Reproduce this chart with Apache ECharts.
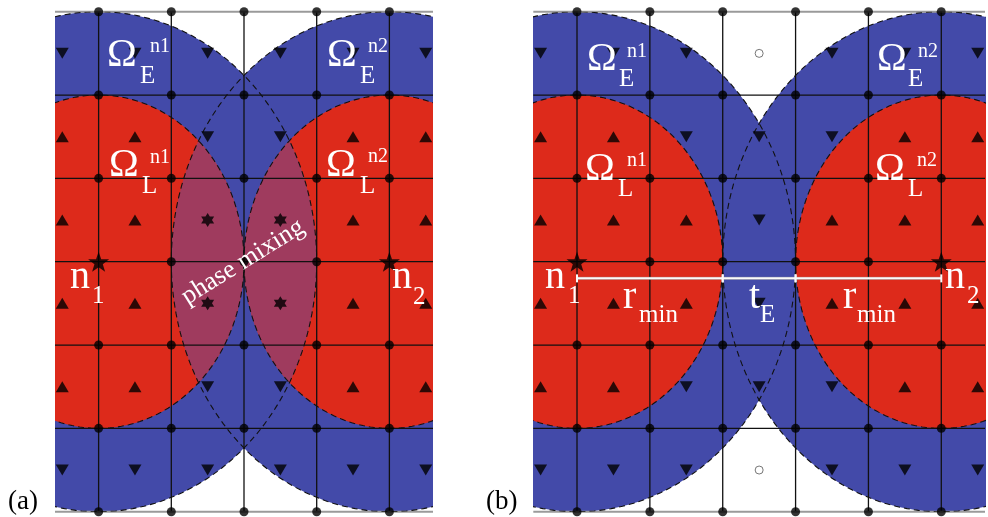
<!DOCTYPE html>
<html><head><meta charset="utf-8">
<script src="https://cdn.jsdelivr.net/npm/echarts@6/dist/echarts.min.js"></script>
<style>html,body{margin:0;padding:0;background:#fff}#c{width:988px;height:517px}</style>
</head><body><div id="c"></div>
<script>
// ---------------- data (grid cell units) ----------------
const gridColsA = [0, 1, 2, 3, 4];
const gridColsB = [0, 1, 2, 3, 4, 5];
const gridRows = [0, 1, 2, 3, 4, 5, 6];
const cellColsA = [-0.5, 0.5, 1.5, 2.5, 3.5, 4.5];
const cellColsB = [-0.5, 0.5, 1.5, 2.5, 3.5, 4.5, 5.5];
const cellRows = [0.5, 1.5, 2.5, 3.5, 4.5, 5.5];
const nodesA = [[0, 3], [4, 3]];   // n1, n2 in panel (a)
const nodesB = [[0, 3], [5, 3]];   // n1, n2 in panel (b)
const rMin = 2;                    // radius of liquid domain
const tE = 1;                      // thickness of extension domain
const xRangeA = [-0.6, 4.6];
const xRangeB = [-0.6, 5.6];
const yRange = [0, 6];
const dimLineY = 3.2;

// ---------------- styles ----------------
const BLUE = '#434aa9', RED = '#dd2a1b', PURPLE = '#9f3b5e';
const FONT = '"Liberation Serif", "Times New Roman", serif';

function d2(p, c) { return (p[0]-c[0])**2 + (p[1]-c[1])**2; }
function classify(p, nodes) {
  const rE = rMin + tE;
  const L = nodes.map(c => d2(p, c) < rMin*rMin);
  const E = nodes.map(c => d2(p, c) < rE*rE);
  for (let i = 0; i < nodes.length; i++) for (let j = 0; j < nodes.length; j++)
    if (i !== j && L[i] && E[j] && !L[j]) return 'mix';
  if (L.some(v => v)) return 'liq';
  if (E.some(v => v)) return 'ext';
  return 'empty';
}
function circlePts(api, cx, cy, r) {
  const pts = [];
  for (let k = 0; k <= 240; k++) {
    const t = k / 240 * 2 * Math.PI;
    pts.push(api.coord([cx + r*Math.cos(t), cy + r*Math.sin(t)]));
  }
  return pts;
}
function lensPts(api, c1, r1, c2, r2) {
  const pts = [];
  const N = 720;
  [[c1, r1, c2, r2], [c2, r2, c1, r1]].forEach(([a, ra, b, rb]) => {
    for (let k = 0; k < N; k++) {
      const t = k / N * 2 * Math.PI;
      const p = [a[0] + ra*Math.cos(t), a[1] + ra*Math.sin(t)];
      if (d2(p, b) <= rb*rb) pts.push(p);
    }
  });
  if (pts.length < 3) return [];
  const cx = pts.reduce((s, p) => s + p[0], 0) / pts.length;
  const cy = pts.reduce((s, p) => s + p[1], 0) / pts.length;
  pts.sort((p, q) => Math.atan2(p[1]-cy, p[0]-cx) - Math.atan2(q[1]-cy, q[0]-cx));
  return pts.map(p => api.coord(p));
}

const HEXAGRAM = 'path://M0,-10L2.887,-5L8.66,-5L5.774,0L8.66,5L2.887,5L0,10L-2.887,5L-8.66,5L-5.774,0L-8.66,-5L-2.887,-5Z';
const symbolOf = {
  liq:   { symbol: 'triangle', symbolSize: [13, 11], symbolRotate: 0, itemStyle: { color: '#000' } },
  ext:   { symbol: 'triangle', symbolSize: [13, 11], symbolRotate: 180, itemStyle: { color: '#000' } },
  mix:   { symbol: HEXAGRAM, symbolSize: [13, 14], symbolRotate: 0, itemStyle: { color: '#000' } },
  empty: { symbol: 'circle', symbolSize: 8, symbolRotate: 0, itemStyle: { color: '#fff', borderColor: '#555', borderWidth: 1 } }
};
const STAR = 'path://M0,-10L2.35,-3.24L9.51,-3.09L3.8,1.24L5.88,8.09L0,4L-5.88,8.09L-3.8,1.24L-9.51,-3.09L-2.35,-3.24Z';

function panelSeries(idx, nodes, cols, cellCols, xRange, withDim) {
  const ax = { xAxisIndex: idx, yAxisIndex: idx, silent: true, animation: false };
  const rE = rMin + tE;
  const series = [];
  // extension domains (blue)
  series.push(Object.assign({
    type: 'custom', clip: true, z: 1,
    data: nodes.map(n => [n[0], n[1], rE]),
    renderItem: (p, api) => ({ type: 'polygon', shape: { points: circlePts(api, api.value(0), api.value(1), api.value(2)) }, style: { fill: BLUE } })
  }, ax));
  // liquid domains (red)
  series.push(Object.assign({
    type: 'custom', clip: true, z: 2,
    data: nodes.map(n => [n[0], n[1], rMin]),
    renderItem: (p, api) => ({ type: 'polygon', shape: { points: circlePts(api, api.value(0), api.value(1), api.value(2)) }, style: { fill: RED } })
  }, ax));
  // phase mixing: liquid of i overlapping extension of j
  const mixData = [];
  nodes.forEach((a, i) => nodes.forEach((b, j) => { if (i !== j) mixData.push([a[0], a[1], b[0], b[1]]); }));
  series.push(Object.assign({
    type: 'custom', clip: true, z: 3,
    data: mixData,
    renderItem: (p, api) => {
      const pts = lensPts(api, [api.value(0), api.value(1)], rMin, [api.value(2), api.value(3)], rE);
      return { type: 'polygon', shape: { points: pts }, style: { fill: PURPLE } };
    }
  }, ax));
  // grid lines
  const lines = [];
  cols.forEach(c => lines.push([c, yRange[0], c, yRange[1], 0]));
  gridRows.forEach(r => lines.push([xRange[0], r, xRange[1], r, (r === yRange[0] || r === yRange[1]) ? 1 : 0]));
  series.push(Object.assign({
    type: 'custom', clip: false, z: 4,
    data: lines,
    renderItem: (p, api) => {
      const a = api.coord([api.value(0), api.value(1)]), b = api.coord([api.value(2), api.value(3)]);
      const border = api.value(4) === 1;
      return { type: 'line', shape: { x1: a[0], y1: a[1], x2: b[0], y2: b[1] },
        style: { stroke: border ? '#9a9a9a' : '#111', lineWidth: border ? 2 : 1.3 } };
    }
  }, ax));
  // dashed domain outlines
  const outlines = [];
  nodes.forEach(n => { outlines.push([n[0], n[1], rE]); outlines.push([n[0], n[1], rMin]); });
  series.push(Object.assign({
    type: 'custom', clip: true, z: 5,
    data: outlines,
    renderItem: (p, api) => ({ type: 'polyline', shape: { points: circlePts(api, api.value(0), api.value(1), api.value(2)) },
      style: { stroke: '#111', lineWidth: 1.1, lineDash: [6, 4], fill: null } })
  }, ax));
  // cell-centre markers
  const cells = [];
  cellCols.forEach(x => cellRows.forEach(y => {
    const k = classify([x, y], nodes);
    cells.push(Object.assign({ value: [x, y] }, symbolOf[k]));
  }));
  series.push(Object.assign({ type: 'scatter', clip: false, z: 6, data: cells }, ax));
  // nodes
  const dots = [];
  cols.forEach(x => gridRows.forEach(y => {
    if (!nodes.some(n => n[0] === x && n[1] === y)) dots.push([x, y]);
  }));
  series.push(Object.assign({ type: 'scatter', clip: false, z: 7, symbol: 'circle', symbolSize: 9, itemStyle: { color: '#000' }, data: dots }, ax));
  series.push(Object.assign({ type: 'scatter', clip: false, z: 8, symbol: STAR, symbolSize: [21, 20], itemStyle: { color: '#000' }, data: nodes }, ax));
  if (withDim) {
    const segs = [[0, rMin], [rMin, rMin + tE], [rMin + tE, 2*rMin + tE]];
    series.push(Object.assign({
      type: 'custom', clip: false, z: 9,
      data: segs.map(s => [s[0], dimLineY, s[1]]),
      renderItem: (p, api) => {
        const a = api.coord([api.value(0), api.value(1)]), b = api.coord([api.value(2), api.value(1)]);
        const st = { stroke: '#fafafa', lineWidth: 2 };
        return { type: 'group', children: [
          { type: 'line', shape: { x1: a[0], y1: a[1], x2: b[0], y2: b[1] }, style: { stroke: 'rgba(150,150,150,0.6)', lineWidth: 3.2 } },
          { type: 'line', shape: { x1: a[0], y1: a[1], x2: b[0], y2: b[1] }, style: st },
          { type: 'line', shape: { x1: a[0], y1: a[1]-4, x2: a[0], y2: a[1]+4 }, style: st },
          { type: 'line', shape: { x1: b[0], y1: b[1]-4, x2: b[0], y2: b[1]+4 }, style: st }
        ] };
      }
    }, ax));
  }
  return series;
}

// ---------------- labels (pixel layout) ----------------
function t(text, x, base, size, color) {
  return { type: 'text', z: 100, silent: true, style: { text, x, y: base - 0.305*size, font: size + 'px ' + FONT, fill: color || '#fff', verticalAlign: 'middle', textAlign: 'left' } };
}
const labels = [
  // panel (a)
  t('Ω', 107, 68, 40), t('n1', 150, 53, 20), t('E', 140, 84, 25),
  t('Ω', 327, 68, 40), t('n2', 368, 53, 20), t('E', 360, 84, 25),
  t('Ω', 109, 178, 40), t('n1', 150, 164, 20), t('L', 142, 194, 25),
  t('Ω', 326, 178, 40), t('n2', 368, 163, 20), t('L', 360, 194, 25),
  t('n', 70, 290, 40), t('1', 92, 304, 25),
  t('n', 392, 290, 40), t('2', 413, 305, 25),
  t('(a)', 8, 510, 27, '#000'),
  // panel (b)
  t('Ω', 587, 72, 40), t('n1', 627, 58, 20), t('E', 619, 87, 25),
  t('Ω', 877, 72, 40), t('n2', 918, 58, 20), t('E', 908, 87, 25),
  t('Ω', 585, 182, 40), t('n1', 627, 167, 20), t('L', 618, 197, 25),
  t('Ω', 875, 182, 40), t('n2', 917, 167, 20), t('L', 908, 197, 25),
  t('n', 545, 290, 40), t('1', 568, 304, 25),
  t('n', 945, 290, 40), t('2', 967, 304, 25),
  t('r', 623, 310, 40), t('min', 639, 323, 25),
  t('t', 749, 310, 40), t('E', 760, 323, 25),
  t('r', 843, 310, 40), t('min', 857, 323, 25),
  t('(b)', 486, 510, 27, '#000'),
  { type: 'text', z: 100, silent: true, x: 243, y: 262, rotation: 32 * Math.PI / 180,
    style: { text: 'phase mixing', x: 0, y: 0, font: '26px ' + FONT, fill: '#fff', textAlign: 'center', verticalAlign: 'middle' } }
];

const chart = echarts.init(document.getElementById('c'), null, { renderer: 'canvas' });
chart.setOption({
  animation: false,
  backgroundColor: '#fff',
  grid: [
    { left: 55, top: 11.7, width: 378, height: 500 },
    { left: 533.3, top: 11.7, width: 451.7, height: 500 }
  ],
  xAxis: [
    { type: 'value', gridIndex: 0, min: xRangeA[0], max: xRangeA[1], show: false },
    { type: 'value', gridIndex: 1, min: xRangeB[0], max: xRangeB[1], show: false }
  ],
  yAxis: [
    { type: 'value', gridIndex: 0, min: yRange[0], max: yRange[1], inverse: true, show: false },
    { type: 'value', gridIndex: 1, min: yRange[0], max: yRange[1], inverse: true, show: false }
  ],
  series: [].concat(
    panelSeries(0, nodesA, gridColsA, cellColsA, xRangeA, false),
    panelSeries(1, nodesB, gridColsB, cellColsB, xRangeB, true)
  ),
  graphic: labels
});
</script></body></html>
